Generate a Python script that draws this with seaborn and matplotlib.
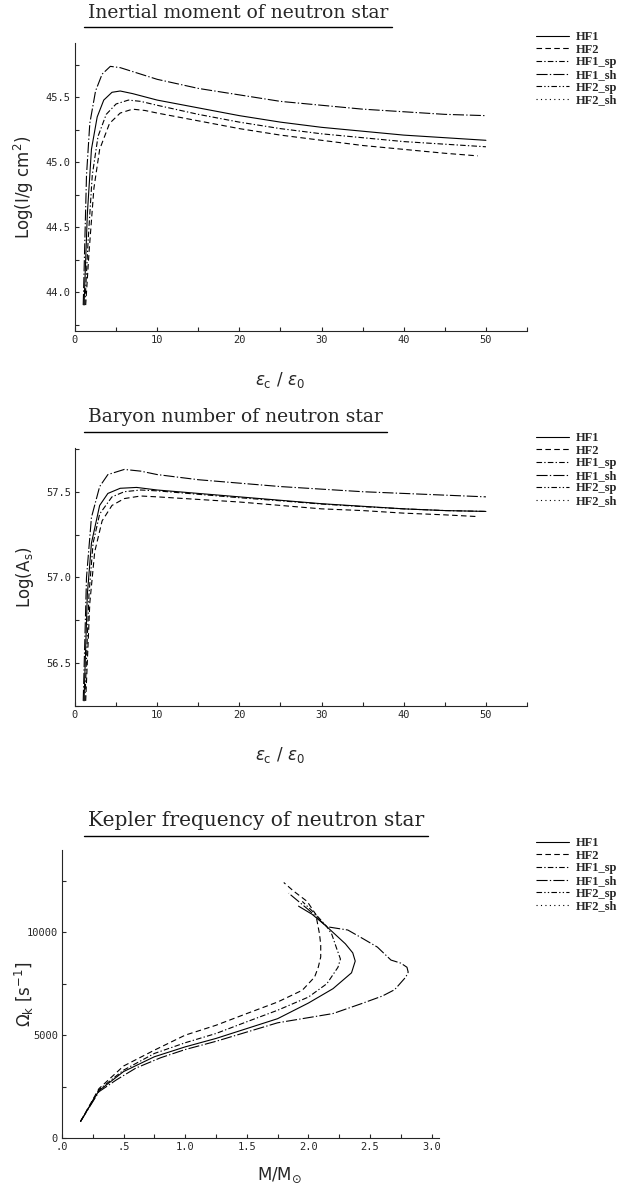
import numpy as np
import pandas as pd
import seaborn as sns
import matplotlib
matplotlib.use("Agg")
import matplotlib.pyplot as plt
from matplotlib.lines import Line2D

sns.set_style("ticks")
plt.rcParams['font.family'] = ['DejaVu Sans']
plt.rcParams['mathtext.fontset'] = 'dejavusans'

# ---------------- data ----------------
labels = ["HF1", "HF2", "HF1_sp", "HF1_sh", "HF2_sp", "HF2_sh"]

# Panel 1: log of inertial moment vs eps_c/eps_0
i_hf1_x = [1.1, 1.5, 2.0, 2.7, 3.5, 4.5, 5.5, 7, 10, 15, 20, 25, 30, 35, 40, 45, 50]
i_hf1_y = [43.9, 44.6, 45.1, 45.35, 45.48, 45.54, 45.55, 45.53, 45.48, 45.42, 45.36, 45.31, 45.27, 45.24, 45.21, 45.19, 45.17]
i_hf2_x = [1.3, 1.7, 2.3, 3.0, 4.2, 5.5, 7, 8.5, 10, 15, 20, 25, 30, 35, 40, 45, 49]
i_hf2_y = [43.9, 44.3, 44.8, 45.1, 45.3, 45.38, 45.41, 45.40, 45.38, 45.32, 45.26, 45.21, 45.17, 45.13, 45.10, 45.07, 45.05]
i_hf1sp_x = [1.2, 1.6, 2.1, 2.8, 3.8, 5, 6.5, 8, 10, 15, 20, 25, 30, 35, 40, 45, 50]
i_hf1sp_y = [43.9, 44.4, 44.9, 45.2, 45.37, 45.45, 45.48, 45.47, 45.44, 45.37, 45.31, 45.26, 45.22, 45.19, 45.16, 45.14, 45.12]
i_hf1sh_x = [1.0, 1.4, 1.8, 2.5, 3.3, 4.3, 5.5, 8, 10, 15, 20, 25, 30, 35, 40, 45, 50]
i_hf1sh_y = [43.9, 44.9, 45.3, 45.55, 45.68, 45.74, 45.73, 45.68, 45.64, 45.57, 45.52, 45.47, 45.44, 45.41, 45.39, 45.37, 45.36]

# Panel 2: log of baryon number vs eps_c/eps_0
a_hf1_x = [1.1, 1.5, 2.0, 3, 4, 5.5, 7.5, 10, 15, 20, 25, 30, 35, 40, 45, 50]
a_hf1_y = [56.28, 56.9, 57.2, 57.42, 57.49, 57.52, 57.525, 57.51, 57.49, 57.47, 57.45, 57.43, 57.415, 57.40, 57.39, 57.385]
a_hf2_x = [1.3, 1.8, 2.4, 3.3, 4.5, 6, 8, 10, 15, 20, 25, 30, 35, 40, 45, 49]
a_hf2_y = [56.28, 56.85, 57.15, 57.33, 57.42, 57.46, 57.475, 57.47, 57.455, 57.44, 57.42, 57.40, 57.39, 57.375, 57.365, 57.355]
a_hf1sp_x = [1.2, 1.7, 2.2, 3, 4.5, 6, 8, 10, 15, 20, 25, 30, 35, 40, 45, 50]
a_hf1sp_y = [56.28, 56.9, 57.2, 57.37, 57.47, 57.50, 57.51, 57.505, 57.485, 57.465, 57.447, 57.428, 57.413, 57.40, 57.39, 57.385]
a_hf1sh_x = [1.0, 1.4, 2.0, 3, 4, 6, 8, 10, 15, 20, 25, 30, 35, 40, 45, 50]
a_hf1sh_y = [56.28, 57.0, 57.35, 57.53, 57.60, 57.63, 57.62, 57.60, 57.57, 57.55, 57.53, 57.515, 57.50, 57.49, 57.48, 57.47]

# Panel 3: Kepler frequency vs mass (parametric curves)
k_hf1_m = [0.15, 0.3, 0.5, 0.75, 1.0, 1.25, 1.5, 1.75, 2.0, 2.2, 2.35, 2.38, 2.36, 2.3, 2.15, 2.03, 1.92]
k_hf1_w = [800, 2300, 3230, 3950, 4430, 4840, 5320, 5800, 6560, 7260, 8030, 8600, 9000, 9440, 10270, 10875, 11270]
k_hf2_m = [0.15, 0.3, 0.5, 0.75, 1.0, 1.25, 1.5, 1.75, 1.95, 2.05, 2.08, 2.1, 2.1, 2.09, 2.06, 1.99, 1.88, 1.80]
k_hf2_w = [800, 2400, 3500, 4270, 5000, 5480, 6050, 6610, 7180, 7820, 8300, 8800, 9400, 9920, 10870, 11500, 12000, 12420]
k_hf1sp_m = [0.15, 0.3, 0.5, 0.75, 1.0, 1.25, 1.5, 1.75, 2.0, 2.15, 2.24, 2.26, 2.23, 2.19, 2.15, 2.06, 1.95]
k_hf1sp_w = [800, 2350, 3300, 4110, 4630, 5080, 5650, 6210, 6850, 7500, 8300, 8700, 9200, 9900, 10270, 10870, 11500]
k_hf1sh_m = [0.15, 0.3, 0.44, 0.6, 0.8, 1.0, 1.25, 1.5, 1.75, 2.0, 2.2, 2.43, 2.6, 2.7, 2.79, 2.81, 2.8, 2.75, 2.67, 2.56, 2.44, 2.32, 2.15, 2.0, 1.84]
k_hf1sh_w = [800, 2250, 2820, 3400, 3900, 4300, 4700, 5150, 5600, 5850, 6050, 6530, 6900, 7210, 7820, 8060, 8300, 8500, 8650, 9280, 9700, 10110, 10270, 11100, 11900]

styles = {
    "HF1": "-",
    "HF2": (0, (5, 3)),
    "HF1_sp": (0, (5, 2, 1.2, 2)),
    "HF1_sh": (0, (10, 2, 1.2, 2)),
    "HF2_sp": (0, (5, 2, 1.2, 2, 1.2, 2)),
    "HF2_sh": (0, (1, 3)),
}

def long_df(series):
    frames = []
    for name, xs, ys in series:
        frames.append(pd.DataFrame({"x": xs, "y": ys, "model": name}))
    return pd.concat(frames, ignore_index=True)

df1 = long_df([("HF1", i_hf1_x, i_hf1_y), ("HF2", i_hf2_x, i_hf2_y),
               ("HF1_sp", i_hf1sp_x, i_hf1sp_y), ("HF1_sh", i_hf1sh_x, i_hf1sh_y)])
df2 = long_df([("HF1", a_hf1_x, a_hf1_y), ("HF2", a_hf2_x, a_hf2_y),
               ("HF1_sp", a_hf1sp_x, a_hf1sp_y), ("HF1_sh", a_hf1sh_x, a_hf1sh_y)])
df3 = long_df([("HF1", k_hf1_m, k_hf1_w), ("HF2", k_hf2_m, k_hf2_w),
               ("HF1_sp", k_hf1sp_m, k_hf1sp_w), ("HF1_sh", k_hf1sh_m, k_hf1sh_w)])

W, H = 626, 1191
fig = plt.figure(figsize=(W / 100, H / 100), dpi=100)

def fx(px):
    return px / W

def fy(py):
    return 1 - py / H

def make_axes(top, bottom, left, right):
    return fig.add_axes([fx(left), fy(bottom), (right - left) / W, (bottom - top) / H])

geo = {1: (43, 331, 75, 527), 2: (448, 706, 75, 527), 3: (850, 1138, 62, 439)}
ax1 = make_axes(*geo[1])
ax2 = make_axes(*geo[2])
ax3 = make_axes(*geo[3])

def draw(ax, df):
    for name in ["HF1", "HF2", "HF1_sp", "HF1_sh"]:
        sub = df[df["model"] == name]
        sns.lineplot(data=sub, x="x", y="y", sort=False, estimator=None, ax=ax,
                     color="black", linewidth=0.8, linestyle=styles[name], legend=False)

draw(ax1, df1)
draw(ax2, df2)
draw(ax3, df3)

def style_axes(ax):
    sns.despine(ax=ax)
    for s in ["left", "bottom"]:
        ax.spines[s].set_linewidth(0.8)
    ax.tick_params(which="both", direction="in", length=3, width=0.8, pad=3)
    for lab in ax.get_xticklabels() + ax.get_yticklabels():
        lab.set_fontfamily("DejaVu Sans Mono")
        lab.set_fontsize(7.5)

# axis 1
ax1.set_xlim(0, 55)
ax1.set_ylim(43.70, 45.92)
ax1.set_xticks(np.arange(0, 51, 10))
ax1.set_xticks(np.arange(5, 56, 10), minor=True)
ax1.set_yticks([44.0, 44.5, 45.0, 45.5])
ax1.set_yticklabels(["44.0", "44.5", "45.0", "45.5"])
ax1.set_yticks([43.75, 44.25, 44.75, 45.25, 45.75], minor=True)
# axis 2
ax2.set_xlim(0, 55)
ax2.set_ylim(56.27, 57.755)
ax2.set_xticks(np.arange(0, 51, 10))
ax2.set_xticks(np.arange(5, 56, 10), minor=True)
ax2.set_yticks([56.5, 57.0, 57.5])
ax2.set_yticklabels(["56.5", "57.0", "57.5"])
ax2.set_yticks([56.25, 56.75, 57.25, 57.75], minor=True)
# axis 3
ax3.set_xlim(0, 3.06)
ax3.set_ylim(0, 14000)
ax3.set_xticks(np.arange(0, 3.01, 0.5))
ax3.set_xticklabels([".0", ".5", "1.0", "1.5", "2.0", "2.5", "3.0"])
ax3.set_xticks(np.arange(0.25, 3.06, 0.5), minor=True)
ax3.set_yticks([0, 5000, 10000])
ax3.set_yticklabels(["0", "5000", "10000"])
ax3.set_yticks([2500, 7500, 12500], minor=True)

for ax in (ax1, ax2, ax3):
    style_axes(ax)

labfont = dict(fontsize=12, fontfamily="DejaVu Sans")
ax1.set_xlabel(r"$\varepsilon_{\rm c}\ /\ \varepsilon_{0}$", **labfont)
ax2.set_xlabel(r"$\varepsilon_{\rm c}\ /\ \varepsilon_{0}$", **labfont)
ax3.set_xlabel(r"M/M$_{\odot}$", **labfont)
ax1.set_ylabel(r"Log(I/g cm$^2$)", **labfont)
ax2.set_ylabel(r"Log(A$_{\rm s}$)", **labfont)
ax3.set_ylabel(r"$\Omega_{\rm k}$ [s$^{-1}$]", **labfont)
for ax, key, xl_top in ((ax1, 1, 370), (ax2, 2, 745), (ax3, 3, 1166)):
    top, bottom, left, right = geo[key]
    ax.xaxis.set_label_coords((280 - left) / (right - left), -(xl_top - bottom) / (bottom - top))
    ax.yaxis.set_label_coords(-(left - 36) / (right - left), 0.5)

# titles with underline
titles = [("Inertial moment of neutron star", 13, 27, 13.5),
          ("Baryon number of neutron star", 417, 432, 13.5),
          ("Kepler frequency of neutron star", 821, 836, 14.5)]
for txt, ty, uy, fs in titles:
    t = fig.text(fx(88), fy(ty), txt, ha="left", va="center",
                 fontfamily="DejaVu Serif", fontsize=fs)
    fig.canvas.draw()
    bb = t.get_window_extent()
    fig.add_artist(Line2D([fx(84), fx(bb.x1 + 4)], [fy(uy), fy(uy)],
                          transform=fig.transFigure, color="black", lw=1.0))

# legends
handles = [Line2D([0], [0], color="black", lw=0.8, linestyle=styles[n]) for n in labels]
for ax, ly in ((ax1, 31), (ax2, 432), (ax3, 837)):
    ax.legend(handles, labels, loc="upper left", bbox_to_anchor=(fx(536), fy(ly)),
              bbox_transform=fig.transFigure, frameon=False, handlelength=2.6,
              handletextpad=0.6, labelspacing=0.05, borderpad=0, borderaxespad=0,
              prop=dict(family="Liberation Serif", weight="bold", size=9))

fig.savefig("out.png", dpi=100, facecolor="white")
